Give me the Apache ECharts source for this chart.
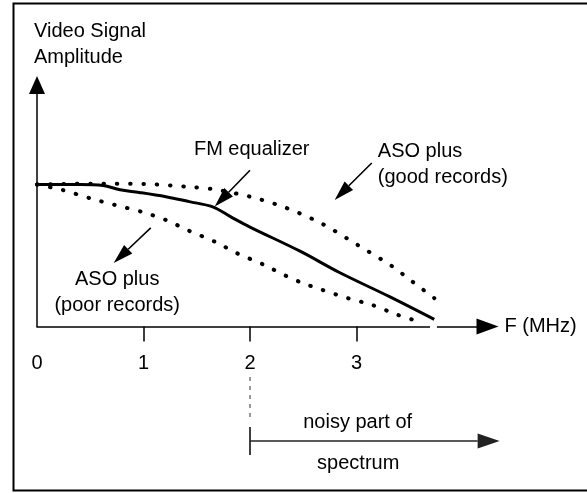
<!DOCTYPE html>
<html>
<head>
<meta charset="utf-8">
<script src="https://cdn.jsdelivr.net/npm/echarts@6/dist/echarts.min.js"></script>
<style>
html,body{margin:0;padding:0;background:#fff;}
#chart{width:587px;height:493px;}
</style>
</head>
<body>
<div id="chart"></div>
<script>
// ---- data (F in MHz, relative amplitude) ----
const xTickLabels = [0, 1, 2, 3];
const xTickMarks = [1, 2, 3];

const fmEqualizerX = [0, 0.4, 0.62, 0.78, 0.96, 1.21, 1.43, 1.65, 1.82, 2.0, 2.47, 2.84, 3.31, 3.73];
const fmEqualizerY = [1.0, 1.0, 0.993, 0.962, 0.944, 0.914, 0.879, 0.842, 0.772, 0.70, 0.53, 0.38, 0.21, 0.05];

const goodRecordsX = [0, 0.51, 1.01, 1.39, 1.64, 2.0, 2.34, 2.68, 3.01, 3.33, 3.53, 3.73];
const goodRecordsY = [1.0, 1.005, 1.003, 0.985, 0.968, 0.914, 0.835, 0.722, 0.574, 0.426, 0.313, 0.20];

const poorRecordsX = [0, 0.24, 0.495, 0.73, 0.98, 1.21, 1.43, 1.67, 1.88, 2.12, 2.34, 2.47, 2.68, 2.92, 3.15, 3.39, 3.62];
const poorRecordsY = [1.0, 0.961, 0.903, 0.856, 0.808, 0.75, 0.673, 0.597, 0.515, 0.438, 0.356, 0.313, 0.257, 0.199, 0.151, 0.081, 0.027];

const noisyStart = 2.0;

const FONT = '"Liberation Sans", Arial, sans-serif';
const zip = (xs, ys) => xs.map((x, i) => [x, ys[i]]);

const chart = echarts.init(document.getElementById('chart'), null, {renderer: 'canvas'});

const dotted = {color: '#000', width: 4, type: [0.5, 12.8], cap: 'round'};

chart.setOption({
  animation: false,
  backgroundColor: '#fff',
  title: {
    text: 'Video Signal\nAmplitude',
    left: 29, top: 13,
    textStyle: {fontFamily: FONT, fontSize: 20, fontWeight: 'normal', color: '#000', lineHeight: 26}
  },
  grid: {left: 37, top: 85, right: 99.5, bottom: 166.5},
  xAxis: {
    type: 'value', min: 0, max: 4.23,
    name: 'F (MHz)', nameLocation: 'end', nameGap: 17,
    nameTextStyle: {fontFamily: FONT, fontSize: 20, color: '#000', verticalAlign: 'middle', align: 'left'},
    axisLine: {show: true, onZero: false, lineStyle: {color: '#000', width: 1.5}, symbol: ['none', 'triangle'], symbolSize: [16, 22]},
    axisTick: {show: true, length: 15, lineStyle: {color: '#000', width: 1.5}, customValues: xTickMarks},
    axisLabel: {show: true, margin: 27, fontFamily: FONT, fontSize: 20, color: '#000', customValues: xTickLabels},
    splitLine: {show: false}
  },
  yAxis: {
    type: 'value', min: 0, max: 1.70,
    axisLine: {show: true, onZero: false, lineStyle: {color: '#000', width: 1.5}, symbol: ['none', 'triangle'], symbolSize: [16, 18]},
    axisTick: {show: false},
    axisLabel: {show: false},
    splitLine: {show: false}
  },
  series: [
    {name: 'ASO plus (good records)', type: 'line', data: zip(goodRecordsX, goodRecordsY), smooth: 0.3, showSymbol: false, lineStyle: dotted, z: 3},
    {name: 'ASO plus (poor records)', type: 'line', data: zip(poorRecordsX, poorRecordsY), smooth: 0.3, showSymbol: false, lineStyle: dotted, z: 3},
    {name: 'FM equalizer', type: 'line', data: zip(fmEqualizerX, fmEqualizerY), smooth: 0.35, showSymbol: false, lineStyle: {color: '#000', width: 3}, z: 4}
  ]
});

// ---- annotations placed through the chart's scales ----
const P = (x, y) => chart.convertToPixel({gridIndex: 0}, [x, y]);

function arrow(from, to, headLen, headW, color, width) {
  const a = P(from[0], from[1]), b = P(to[0], to[1]);
  const dx = b[0] - a[0], dy = b[1] - a[1];
  const L = Math.hypot(dx, dy), ux = dx / L, uy = dy / L;
  const bx = b[0] - ux * headLen, by = b[1] - uy * headLen;
  const nx = -uy * headW / 2, ny = ux * headW / 2;
  return [
    {type: 'line', shape: {x1: a[0], y1: a[1], x2: bx, y2: by}, style: {stroke: color, lineWidth: width}, z: 10},
    {type: 'polygon', shape: {points: [[b[0], b[1]], [bx + nx, by + ny], [bx - nx, by - ny]]}, style: {fill: color}, z: 10}
  ];
}
function label(text, at, align, lineHeight) {
  const p = P(at[0], at[1]);
  return {type: 'text', x: p[0], y: p[1], z: 10,
    style: {text: text, font: '20px ' + FONT, fill: '#000', align: align, verticalAlign: 'middle', lineHeight: lineHeight || 26}};
}

const g = [];
// frame
g.push({type: 'rect', shape: {x: 13.5, y: 3.5, width: 620, height: 487}, style: {fill: 'none', stroke: '#000', lineWidth: 2}, z: 0});
// small gap in the x axis where curves meet it
const gap0 = P(3.69, 0), gap1 = P(3.755, 0);
g.push({type: 'line', shape: {x1: gap0[0], y1: gap0[1], x2: gap1[0], y2: gap1[1]}, style: {stroke: '#fff', lineWidth: 3}, z: 2});

g.push(...arrow([2.0, 1.10], [1.669, 0.844], 20, 12, '#000', 1.6));
g.push(...arrow([3.143, 1.151], [2.795, 0.891], 20, 12, '#000', 1.6));
g.push(...arrow([1.068, 0.694], [0.72, 0.447], 20, 12, '#000', 1.6));

g.push(label('FM equalizer', [2.016, 1.243], 'center'));
g.push(label('ASO plus\n(good records)', [3.20, 1.137], 'left'));
g.push(label('ASO plus\n(poor records)', [0.753, 0.236], 'center'));

// noisy part of spectrum
const d0 = P(noisyStart, -0.356), d1 = P(noisyStart, -0.658);
g.push({type: 'line', shape: {x1: d0[0], y1: d0[1], x2: d1[0], y2: d1[1]}, style: {stroke: '#555', lineWidth: 1.2, lineDash: [4, 5]}, z: 10});
const v0 = P(noisyStart, -0.708), v1 = P(noisyStart, -0.905);
g.push({type: 'line', shape: {x1: v0[0], y1: v0[1], x2: v1[0], y2: v1[1]}, style: {stroke: '#000', lineWidth: 1.5}, z: 10});
g.push(...arrow([noisyStart, -0.806], [4.344, -0.806], 22, 15, '#222', 1.3));
g.push(label('noisy part of', [3.011, -0.673], 'center'));
g.push(label('spectrum', [3.016, -0.961], 'center'));

chart.setOption({graphic: g});
</script>
</body>
</html>
